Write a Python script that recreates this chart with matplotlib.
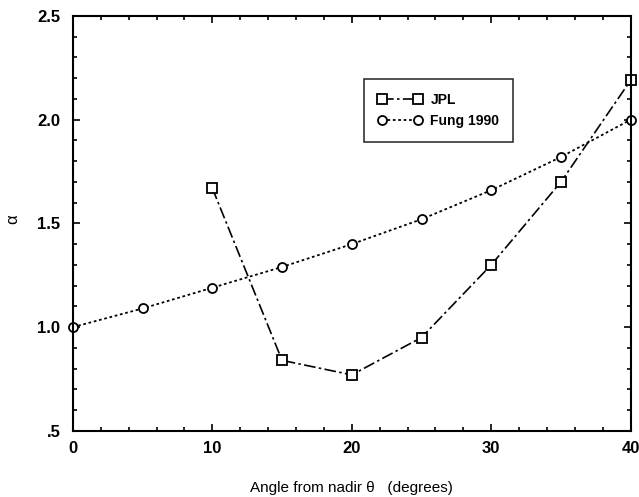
import matplotlib
matplotlib.use('Agg')
import matplotlib.pyplot as plt
from matplotlib.ticker import MultipleLocator, FixedLocator, FixedFormatter

plt.rcParams['font.family'] = ['Liberation Sans', 'DejaVu Sans']

# Data
jpl_angle = [10, 15, 20, 25, 30, 35, 40]
jpl_alpha = [1.67, 0.84, 0.77, 0.95, 1.30, 1.70, 2.19]

fung_angle = [0, 5, 10, 15, 20, 25, 30, 35, 40]
fung_alpha = [1.00, 1.09, 1.19, 1.29, 1.40, 1.52, 1.66, 1.82, 2.00]

y_ticks = [0.5, 1.0, 1.5, 2.0, 2.5]
y_tick_labels = ['.5', '1.0', '1.5', '2.0', '2.5']

fig = plt.figure(figsize=(6.39, 4.97), dpi=100)
ax = fig.add_axes([0.114, 0.133, 0.873, 0.835])

# Curves
ax.plot(jpl_angle, jpl_alpha, color='black', linestyle=(0, (7, 2, 1.5, 2)), linewidth=1.2,
        marker='s', markersize=6.5, markerfacecolor='white', markeredgecolor='black',
        markeredgewidth=1.3, label='JPL', clip_on=False)
ax.plot(fung_angle, fung_alpha, color='black', linestyle=(0, (1.5, 1.5)), linewidth=1.3,
        marker='o', markersize=6.5, markerfacecolor='white', markeredgecolor='black',
        markeredgewidth=1.3, label='Fung 1990', clip_on=False)

ax.set_xlim(0, 40)
ax.set_ylim(0.5, 2.5)

ax.xaxis.set_major_locator(MultipleLocator(10))
ax.xaxis.set_minor_locator(MultipleLocator(2))
ax.yaxis.set_major_locator(FixedLocator(y_ticks))
ax.yaxis.set_major_formatter(FixedFormatter(y_tick_labels))
ax.yaxis.set_minor_locator(MultipleLocator(0.1))

ax.tick_params(which='both', direction='in', top=True, right=True, width=1.2)
ax.tick_params(which='major', length=5, labelsize=12)
ax.tick_params(which='minor', length=3)
ax.tick_params(axis='x', pad=7)
ax.tick_params(axis='y', pad=9)
for lbl in ax.get_xticklabels() + ax.get_yticklabels():
    lbl.set_fontweight('bold')

for s in ax.spines.values():
    s.set_linewidth(1.5)

ax.set_xlabel('Angle from nadir θ   (degrees)', fontsize=11, labelpad=18)
ax.set_ylabel('α', fontsize=12, rotation=90)
ax.yaxis.set_label_coords(-0.095, 0.51)

leg = ax.legend(loc='upper left', bbox_to_anchor=(0.509, 0.865), fontsize=10,
                frameon=True, fancybox=False, edgecolor='black', handlelength=3.2,
                numpoints=2, borderpad=1.0, labelspacing=0.5, handletextpad=0.6)
leg.get_frame().set_linewidth(1.2)
for t in leg.get_texts():
    t.set_fontweight('bold')

fig.savefig('out.png', dpi=100)
